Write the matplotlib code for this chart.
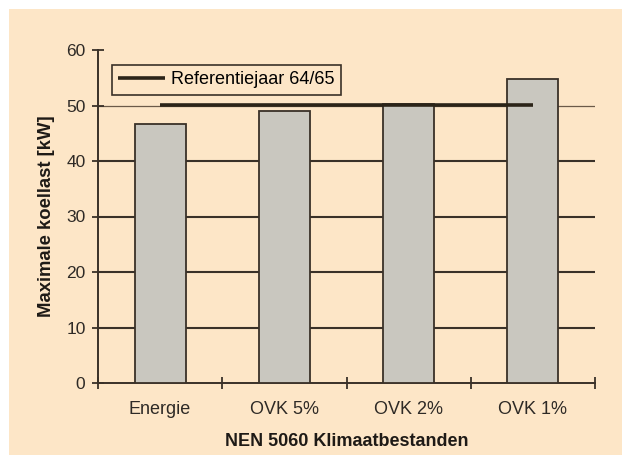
import matplotlib
matplotlib.use("Agg")
import matplotlib.pyplot as plt
from matplotlib.patches import Rectangle

categories = ["Energie", "OVK 5%", "OVK 2%", "OVK 1%"]
values = [46.6, 49.0, 50.3, 54.8]
reference_value = 50.1
reference_label = "Referentiejaar 64/65"
y_ticks = [0, 10, 20, 30, 40, 50, 60]

plt.rcParams['font.family'] = ['Liberation Sans', 'DejaVu Sans']

bg = "#FDE6C7"
dark = "#3a3128"
txt = "#2e2a26"

fig = plt.figure(figsize=(6.25, 4.63), dpi=100, facecolor="white")
fig.patches.append(Rectangle((9/625, 8/463), 613/625, 446/463, transform=fig.transFigure,
                             facecolor=bg, edgecolor="none", zorder=-10))
ax = fig.add_axes([98/625, 1-383/463, 497/625, 333/463])
ax.set_facecolor(bg)

x = list(range(len(categories)))
ax.bar(x, values, width=0.41, color="#C9C7BF", edgecolor=dark, linewidth=1.3, zorder=3)
ax.plot([x[0], x[-1]], [reference_value]*2, color="#2b2418", linewidth=2.6, zorder=4,
        label=reference_label, solid_capstyle="butt")

ax.set_xlim(-0.5, len(categories)-0.5)
ax.set_ylim(0, 60)
ax.set_yticks(y_ticks)
for yv in y_ticks[1:-1]:
    if yv == 50:
        ax.axhline(yv, color="#6b5a48", linewidth=0.9, zorder=1)
    else:
        ax.axhline(yv, color=dark, linewidth=1.5, zorder=1)

ax.set_xticks([i - 0.5 for i in range(len(categories)+1)])
ax.set_xticklabels([])
ax.set_xticks(x, minor=True)
ax.set_xticklabels(categories, minor=True)
ax.tick_params(axis='x', which='minor', length=0, pad=13, labelsize=13, colors=txt)
ax.tick_params(axis='x', which='major', direction='inout', length=8, width=1.3, color=dark)
ax.tick_params(axis='y', direction='inout', length=8, width=1.3, color=dark, labelsize=12.5,
               labelcolor=txt, pad=5)

for s in ["top", "right"]:
    ax.spines[s].set_visible(False)
for s in ["left", "bottom"]:
    ax.spines[s].set_color(dark)
    ax.spines[s].set_linewidth(1.4)

ax.set_ylabel("Maximale koellast [kW]", fontsize=13.3, fontweight="bold", color="#1e1a16", labelpad=8)
ax.set_xlabel("NEN 5060 Klimaatbestanden", fontsize=13, fontweight="bold", color="#1e1a16", labelpad=11)

leg = ax.legend(loc="upper left", bbox_to_anchor=(14/497, 1-15/333), fontsize=13,
                fancybox=False, framealpha=1, handlelength=2.6, borderpad=0.35,
                handletextpad=0.3, borderaxespad=0)
leg.get_frame().set_facecolor(bg)
leg.get_frame().set_edgecolor(dark)
leg.get_frame().set_linewidth(1.2)

fig.savefig("out.png", dpi=100, facecolor=fig.get_facecolor())
